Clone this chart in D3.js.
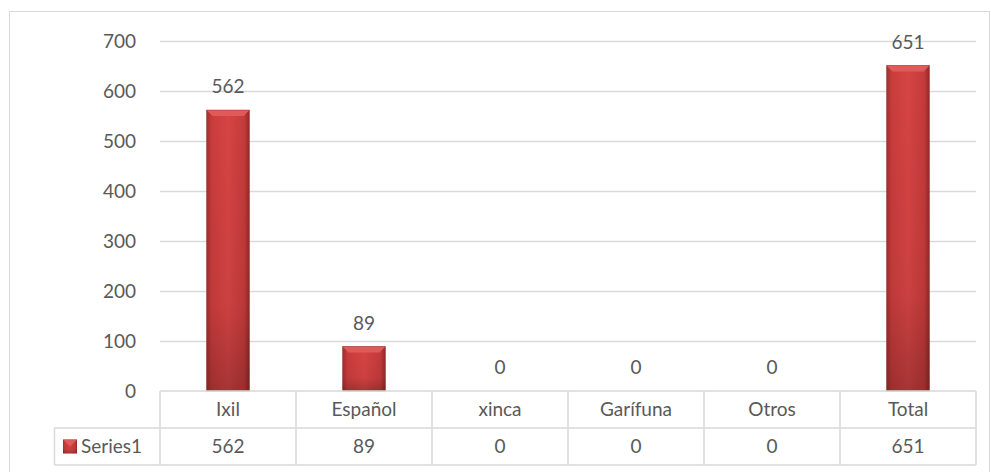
<!DOCTYPE html>
<html>
<head>
<meta charset="utf-8">
<script src="https://cdn.jsdelivr.net/npm/d3@7"></script>
<style>
  body { margin: 0; background: #fff; }
  text { font-family: Lato, "Open Sans", sans-serif; fill: #595959; }
</style>
</head>
<body>
<div id="chart"></div>
<script>
// Data
var categories = ["Ixil", "Español", "xinca", "Garífuna", "Otros", "Total"];
var values = [562, 89, 0, 0, 0, 651];
var yTicks = [0, 100, 200, 300, 400, 500, 600, 700];
var seriesName = "Series1";

var svgWidth = 991, svgHeight = 472;
var plot = {left: 160, right: 976, top: 41, bottom: 391};
var rowH = 37;
var fs = "19px";

var svg = d3.select("#chart").append("svg")
  .attr("width", svgWidth)
  .attr("height", svgHeight);

// bar gradients
var defs = svg.append("defs");
var gH = defs.append("linearGradient").attr("id", "barH").attr("x1", 0).attr("x2", 1).attr("y1", 0).attr("y2", 0);
gH.append("stop").attr("offset", "0%").attr("stop-color", "#a32e2e");
gH.append("stop").attr("offset", "12%").attr("stop-color", "#c93c3c");
gH.append("stop").attr("offset", "50%").attr("stop-color", "#d64444");
gH.append("stop").attr("offset", "88%").attr("stop-color", "#c43a3a");
gH.append("stop").attr("offset", "100%").attr("stop-color", "#922828");
var gV = defs.append("linearGradient").attr("id", "barV").attr("x1", 0).attr("x2", 0).attr("y1", 0).attr("y2", 1);
gV.append("stop").attr("offset", "0%").attr("stop-color", "#000").attr("stop-opacity", 0);
gV.append("stop").attr("offset", "70%").attr("stop-color", "#000").attr("stop-opacity", 0.05);
gV.append("stop").attr("offset", "100%").attr("stop-color", "#000").attr("stop-opacity", 0.22);

// outer border
svg.append("rect")
  .attr("x", 9.5).attr("y", 11.5)
  .attr("width", 980).attr("height", 470)
  .attr("fill", "none").attr("stroke", "#d9d9d9");

var x = d3.scaleBand()
  .domain(categories)
  .range([plot.left, plot.right])
  .paddingInner(0.684)
  .paddingOuter(0.342);

var xCell = d3.scaleBand()
  .domain(categories)
  .range([plot.left, plot.right]);

var y = d3.scaleLinear()
  .domain([0, 700])
  .range([plot.bottom, plot.top]);

// gridlines + y labels
var yAxis = d3.axisLeft(y)
  .tickValues(yTicks)
  .tickSize(-(plot.right - plot.left))
  .tickPadding(24);

var gy = svg.append("g")
  .attr("transform", "translate(" + plot.left + ",0)")
  .call(yAxis);
gy.attr("font-size", null).attr("font-family", null);
gy.select(".domain").remove();
gy.selectAll(".tick line").attr("stroke", "#d9d9d9").attr("stroke-width", 1.5)
  .attr("opacity", function(d) { return d === 0 ? 0 : 1; });
gy.selectAll(".tick text")
  .attr("font-size", fs)
  .attr("fill", "#595959");

// bars
var bars = svg.append("g").selectAll("g.bar")
  .data(values.map(function(v, i) { return {cat: categories[i], v: v}; }))
  .enter().append("g").attr("class", "bar")
  .filter(function(d) { return d.v > 0; });

bars.append("rect")
  .attr("x", function(d) { return x(d.cat); })
  .attr("y", function(d) { return y(d.v); })
  .attr("width", x.bandwidth())
  .attr("height", function(d) { return y(0) - y(d.v); })
  .attr("fill", "url(#barH)");
bars.append("rect")
  .attr("x", function(d) { return x(d.cat); })
  .attr("y", function(d) { return y(d.v); })
  .attr("width", x.bandwidth())
  .attr("height", function(d) { return y(0) - y(d.v); })
  .attr("fill", "url(#barV)");
// top bevel
bars.append("path")
  .attr("d", function(d) {
    var x0 = x(d.cat), x1 = x0 + x.bandwidth(), t = y(d.v), b = 6;
    return "M" + x0 + "," + t + "L" + x1 + "," + t + "L" + (x1 - b) + "," + (t + b) + "L" + (x0 + b) + "," + (t + b) + "Z";
  })
  .attr("fill", "#e05a5a");
bars.append("rect")
  .attr("x", function(d) { return x(d.cat); })
  .attr("y", function(d) { return y(d.v); })
  .attr("width", x.bandwidth())
  .attr("height", function(d) { return y(0) - y(d.v); })
  .attr("fill", "none")
  .attr("stroke", "#8e2626").attr("stroke-opacity", 0.5).attr("stroke-width", 0.8);

// data labels
svg.append("g").selectAll("text")
  .data(values)
  .enter().append("text")
  .attr("x", function(d, i) { return x(categories[i]) + x.bandwidth() / 2; })
  .attr("y", function(d) { return y(d) - 17; })
  .attr("text-anchor", "middle")
  .attr("font-size", fs)
  .text(function(d) { return d; });

// data table
var table = svg.append("g").attr("stroke", "#d9d9d9").attr("stroke-width", 1.5);
table.append("line").attr("x1", plot.left).attr("x2", plot.right).attr("y1", plot.bottom).attr("y2", plot.bottom);
table.append("line").attr("x1", 54.5).attr("x2", plot.right).attr("y1", plot.bottom + rowH).attr("y2", plot.bottom + rowH);
table.append("line").attr("x1", 54.5).attr("x2", plot.right).attr("y1", plot.bottom + 2 * rowH).attr("y2", plot.bottom + 2 * rowH);
table.append("line").attr("x1", 54.5).attr("x2", 54.5).attr("y1", plot.bottom + rowH).attr("y2", plot.bottom + 2 * rowH);
table.selectAll("line.v")
  .data(categories.concat(["end"]))
  .enter().append("line").attr("class", "v")
  .attr("x1", function(d, i) { return plot.left + i * xCell.bandwidth(); })
  .attr("x2", function(d, i) { return plot.left + i * xCell.bandwidth(); })
  .attr("y1", plot.bottom)
  .attr("y2", plot.bottom + 2 * rowH);

svg.append("g").selectAll("text")
  .data(categories)
  .enter().append("text")
  .attr("x", function(d) { return xCell(d) + xCell.bandwidth() / 2; })
  .attr("y", plot.bottom + rowH / 2)
  .attr("dy", "0.35em")
  .attr("text-anchor", "middle")
  .attr("font-size", fs)
  .text(function(d) { return d; });

svg.append("g").selectAll("text")
  .data(values)
  .enter().append("text")
  .attr("x", function(d, i) { return xCell(categories[i]) + xCell.bandwidth() / 2; })
  .attr("y", plot.bottom + rowH * 1.5)
  .attr("dy", "0.35em")
  .attr("text-anchor", "middle")
  .attr("font-size", fs)
  .text(function(d) { return d; });

// legend key in table
var key = svg.append("g").attr("transform", "translate(63," + (plot.bottom + rowH * 1.5 - 7) + ")");
key.append("rect").attr("width", 14).attr("height", 14).attr("fill", "url(#barH)");
key.append("rect").attr("width", 14).attr("height", 14).attr("fill", "url(#barV)");
key.append("path").attr("d", "M0,0L14,0L7,7Z").attr("fill", "#e05a5a");
svg.append("text")
  .attr("x", 81)
  .attr("y", plot.bottom + rowH * 1.5)
  .attr("dy", "0.35em")
  .attr("font-size", fs)
  .text(seriesName);
</script>
</body>
</html>
